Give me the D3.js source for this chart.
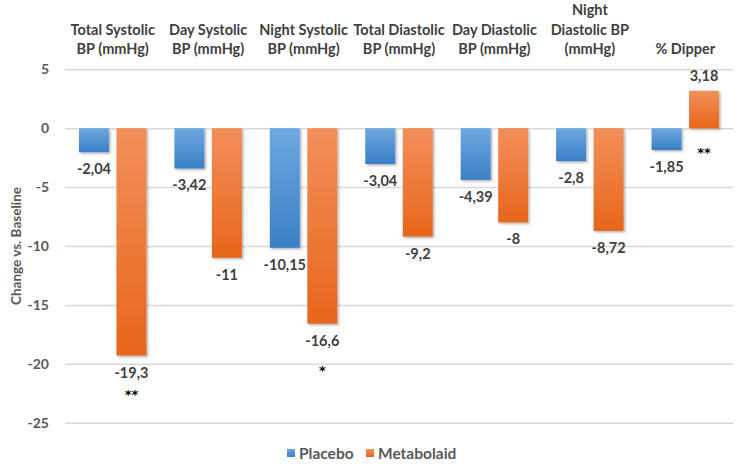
<!DOCTYPE html>
<html>
<head>
<meta charset="utf-8">
<script src="https://cdn.jsdelivr.net/npm/d3@7"></script>
<style>
  html, body { margin: 0; padding: 0; background: #fff; }
  svg { display: block; font-family: Lato, "Open Sans", sans-serif; }
</style>
</head>
<body>
<svg id="chart" width="750" height="470"></svg>
<script>
// ---- data ----
const categories = [
  ["Total Systolic", "BP (mmHg)"],
  ["Day Systolic", "BP (mmHg)"],
  ["Night Systolic", "BP (mmHg)"],
  ["Total Diastolic", "BP (mmHg)"],
  ["Day Diastolic", "BP (mmHg)"],
  ["Night", "Diastolic BP", "(mmHg)"],
  ["% Dipper"]
];
const seriesNames = ["Placebo", "Metabolaid"];
const placebo = [-2.04, -3.42, -10.15, -3.04, -4.39, -2.8, -1.85];
const metabolaid = [-19.3, -11, -16.6, -9.2, -8, -8.72, 3.18];
const significance = ["**", "", "*", "", "", "", "**"];
const significanceAt = [-22.3, null, -20.3, null, null, null, -1.8];
const yTicks = [5, 0, -5, -10, -15, -20, -25];

// ---- layout ----
const svg = d3.select("#chart");
const plot = { left: 65, right: 733, top: 69.3, bottom: 422.7 };
const fmt = v => String(v).replace(".", ",");

const y = d3.scaleLinear().domain([5, -25]).range([plot.top, plot.bottom]);
const x0 = d3.scaleBand().domain(d3.range(categories.length)).range([plot.left, plot.right]);
const x1 = d3.scaleBand().domain(seriesNames)
  .range([x0.bandwidth() / 2 - 37.5, x0.bandwidth() / 2 + 37.5])
  .paddingInner(0.2).paddingOuter(0.1);

const defs = svg.append("defs");
const grads = {
  Placebo: ["#6ea8e0", "#3a7fc6"],
  Metabolaid: ["#f38f5b", "#e7661a"]
};
Object.entries(grads).forEach(([k, c]) => {
  const g = defs.append("linearGradient").attr("id", "g-" + k)
    .attr("x1", 0).attr("y1", 0).attr("x2", 0).attr("y2", 1);
  g.append("stop").attr("offset", "0%").attr("stop-color", c[0]);
  g.append("stop").attr("offset", "100%").attr("stop-color", c[1]);
});
const f = defs.append("filter").attr("id", "shadow")
  .attr("x", "-20%").attr("y", "-20%").attr("width", "150%").attr("height", "150%");
f.append("feDropShadow").attr("dx", 1.5).attr("dy", 1.5).attr("stdDeviation", 1)
  .attr("flood-color", "#000").attr("flood-opacity", 0.3);

// gridlines
const yAxis = d3.axisLeft(y).tickValues(yTicks).tickSize(-(plot.right - plot.left)).tickPadding(16)
  .tickFormat(d => String(d));
const ga = svg.append("g").attr("transform", `translate(${plot.left},0)`).call(yAxis);
ga.select(".domain").remove();
ga.selectAll(".tick line").attr("stroke", "#d9d9d9").attr("stroke-width", 1.5);
ga.selectAll(".tick text").attr("fill", "#595959").attr("font-size", 14).attr("font-weight", 700)
  .attr("font-family", "Lato, sans-serif");

// y-axis title
svg.append("text")
  .attr("transform", `translate(21,${(plot.top + plot.bottom) / 2}) rotate(-90)`)
  .attr("text-anchor", "middle").attr("fill", "#595959")
  .attr("font-size", 13.5).attr("font-weight", 700)
  .text("Change vs. Baseline");

// data rows
const rows = categories.map((c, i) => ({ i, vals: [placebo[i], metabolaid[i]] }));

const groups = svg.append("g").selectAll("g").data(rows).join("g")
  .attr("transform", d => `translate(${x0(d.i)},0)`);

groups.selectAll("rect").data(d => d.vals.map((v, j) => ({ s: seriesNames[j], v })))
  .join("rect")
  .attr("x", d => x1(d.s))
  .attr("width", x1.bandwidth())
  .attr("y", d => Math.min(y(0), y(d.v)))
  .attr("height", d => Math.abs(y(d.v) - y(0)))
  .attr("fill", d => `url(#g-${d.s})`)
  .attr("filter", "url(#shadow)");

groups.selectAll("text.val").data(d => d.vals.map((v, j) => ({ s: seriesNames[j], v })))
  .join("text").attr("class", "val")
  .attr("x", d => x1(d.s) + x1.bandwidth() / 2)
  .attr("y", d => d.v < 0 ? y(d.v) + 22 : y(d.v) - 10)
  .attr("text-anchor", "middle").attr("fill", "#404040")
  .attr("font-size", 14.5).attr("font-weight", 700)
  .text(d => fmt(d.v));

// significance markers
groups.filter(d => significance[d.i]).append("text")
  .attr("x", x1("Metabolaid") + x1.bandwidth() / 2)
  .attr("y", d => y(significanceAt[d.i]) + 8)
  .attr("text-anchor", "middle").attr("fill", "#000")
  .attr("font-family", "'DejaVu Sans', sans-serif")
  .attr("font-size", 13).attr("font-weight", 700)
  .text(d => significance[d.i]);

// category labels (bottom-aligned)
const lineYs = [10, 29.5, 49];
groups.each(function (d) {
  const lines = categories[d.i];
  const g = d3.select(this);
  lines.forEach((ln, k) => {
    g.append("text")
      .attr("x", x0.bandwidth() / 2)
      .attr("y", lineYs[3 - lines.length + k] + 5)
      .attr("text-anchor", "middle").attr("fill", "#404040")
      .attr("font-size", 14.5).attr("font-weight", 700)
      .text(ln);
  });
});

// legend
const legend = [
  { s: "Placebo", x: 287 },
  { s: "Metabolaid", x: 366 }
];
const lg = svg.append("g").selectAll("g").data(legend).join("g")
  .attr("transform", d => `translate(${d.x},449)`);
lg.append("rect").attr("width", 8).attr("height", 8)
  .attr("fill", d => `url(#g-${d.s})`);
lg.append("text").attr("x", 12).attr("y", 9.5)
  .attr("fill", "#595959").attr("font-size", 15.5).attr("font-weight", 700)
  .text(d => d.s);
</script>
</body>
</html>
